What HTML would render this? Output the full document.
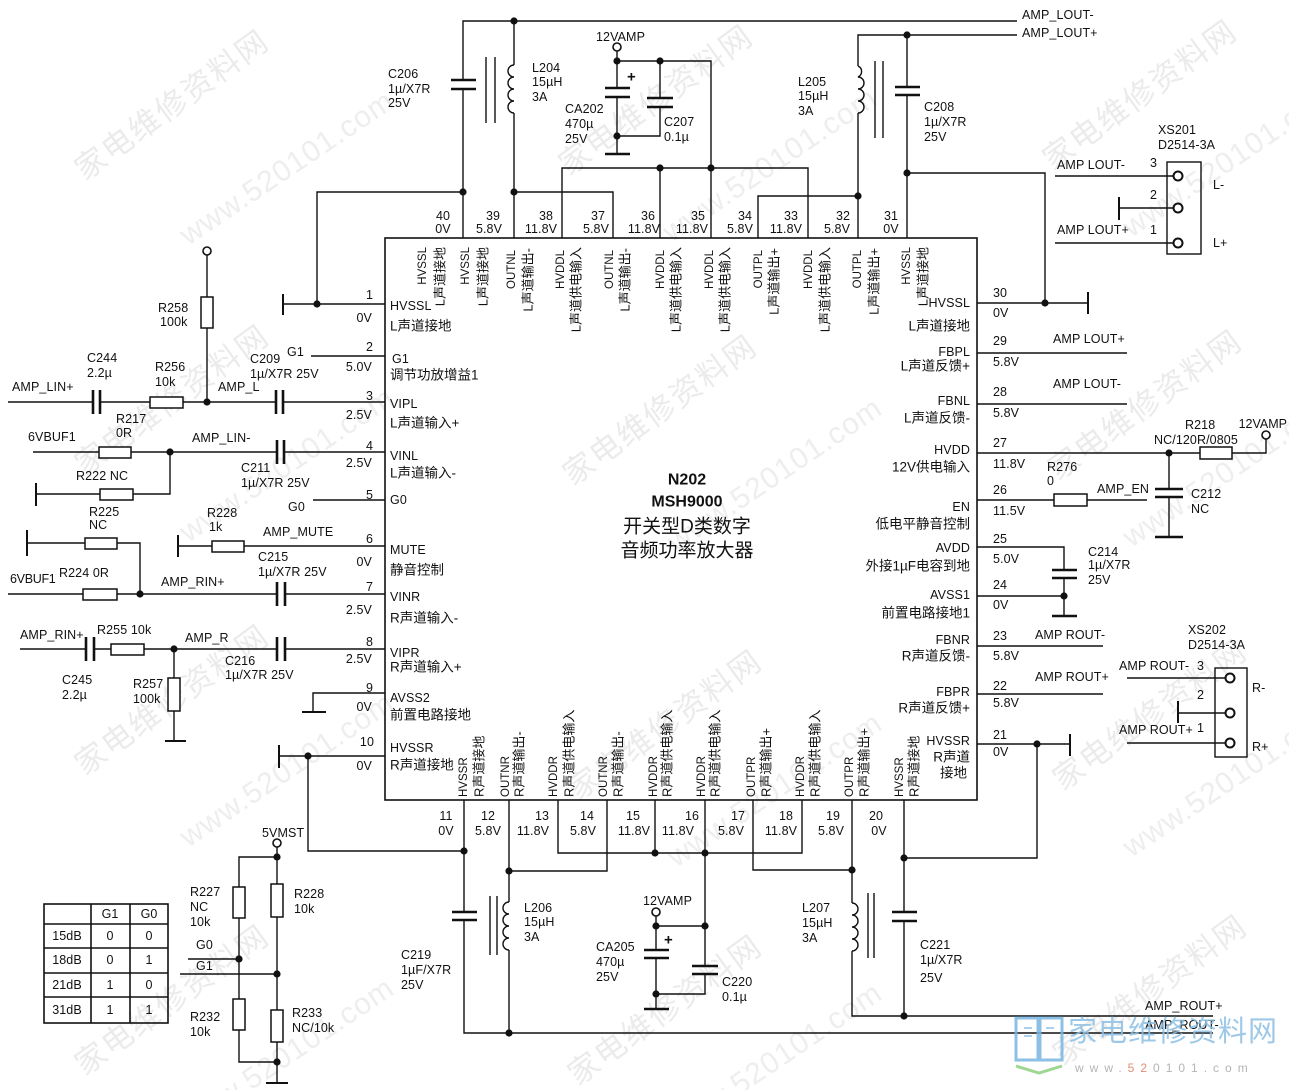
<!DOCTYPE html>
<html><head><meta charset="utf-8">
<style>
html,body{margin:0;padding:0;background:#fff;width:1289px;height:1090px;overflow:hidden;}
svg{display:block;overflow:hidden;}
text{font-family:"Liberation Sans","Noto Sans CJK SC",sans-serif;font-size:12.5px;fill:#111;dominant-baseline:central;letter-spacing:.1px;}
.c{font-size:13.5px;letter-spacing:0;}
.v{font-size:11.5px;letter-spacing:0;}
.vc{font-size:13px;letter-spacing:0;}
.wm{font-size:31px;fill:#ebebeb;letter-spacing:2px;}
.ww{font-size:30px;fill:#eeeeee;letter-spacing:1px;}
.w{stroke:#111;stroke-width:1.4;fill:none;}
.p{stroke:#111;stroke-width:2.6;fill:none;}
.r{stroke:#111;stroke-width:1.5;fill:#fff;}
.d{fill:#111;}
</style></head>
<body>
<svg width="1289" height="1090" viewBox="0 0 1289 1090" xmlns="http://www.w3.org/2000/svg">
<rect width="1289" height="1090" fill="#fff"/>

<!-- watermarks -->
<g>
<text class="wm" transform="translate(172,105) rotate(-36)" text-anchor="middle">家电维修资料网</text>
<text class="ww" transform="translate(287,168) rotate(-34)" text-anchor="middle">www.520101.com</text>
<text class="wm" transform="translate(656,100) rotate(-36)" text-anchor="middle">家电维修资料网</text>
<text class="ww" transform="translate(770,165) rotate(-34)" text-anchor="middle">www.520101.com</text>
<text class="wm" transform="translate(1140,95) rotate(-36)" text-anchor="middle">家电维修资料网</text>
<text class="ww" transform="translate(1230,160) rotate(-34)" text-anchor="middle">www.520101.com</text>
<text class="wm" transform="translate(172,400) rotate(-36)" text-anchor="middle">家电维修资料网</text>
<text class="ww" transform="translate(287,465) rotate(-34)" text-anchor="middle">www.520101.com</text>
<text class="wm" transform="translate(660,410) rotate(-36)" text-anchor="middle">家电维修资料网</text>
<text class="ww" transform="translate(775,475) rotate(-34)" text-anchor="middle">www.520101.com</text>
<text class="wm" transform="translate(1145,405) rotate(-36)" text-anchor="middle">家电维修资料网</text>
<text class="ww" transform="translate(1230,470) rotate(-34)" text-anchor="middle">www.520101.com</text>
<text class="wm" transform="translate(172,700) rotate(-36)" text-anchor="middle">家电维修资料网</text>
<text class="ww" transform="translate(287,770) rotate(-34)" text-anchor="middle">www.520101.com</text>
<text class="wm" transform="translate(665,725) rotate(-36)" text-anchor="middle">家电维修资料网</text>
<text class="ww" transform="translate(775,790) rotate(-34)" text-anchor="middle">www.520101.com</text>
<text class="wm" transform="translate(1150,715) rotate(-36)" text-anchor="middle">家电维修资料网</text>
<text class="ww" transform="translate(1230,780) rotate(-34)" text-anchor="middle">www.520101.com</text>
<text class="wm" transform="translate(172,1000) rotate(-36)" text-anchor="middle">家电维修资料网</text>
<text class="ww" transform="translate(287,1055) rotate(-34)" text-anchor="middle">www.520101.com</text>
<text class="wm" transform="translate(665,1010) rotate(-36)" text-anchor="middle">家电维修资料网</text>
<text class="ww" transform="translate(775,1060) rotate(-34)" text-anchor="middle">www.520101.com</text>
<text class="wm" transform="translate(1150,990) rotate(-36)" text-anchor="middle">家电维修资料网</text>
</g>

<!-- chip -->
<rect x="385" y="238" width="592" height="562" class="w" style="stroke-width:1.6"/>

<!-- ===== TOP WIRING ===== -->
<polyline class="w" points="463,238 463,89"/>
<polyline class="w" points="463,80 463,21 1017,21"/>
<line class="p" x1="451" y1="80" x2="476" y2="80"/><line class="p" x1="451" y1="89" x2="476" y2="89"/>
<polyline class="w" points="317,304 317,192 463,192"/>
<circle class="d" cx="463" cy="192" r="3.6"/>
<polyline class="w" points="514,238 514,113"/>
<path class="w" d="M514 113 a6 6 0 0 1 0 -12 a6 6 0 0 1 0 -12 a6 6 0 0 1 0 -12 a6 6 0 0 1 0 -12"/>
<polyline class="w" points="514,65 514,21"/>
<line class="w" x1="486" y1="57" x2="486" y2="123"/><line class="w" x1="495" y1="57" x2="495" y2="123"/>
<circle class="d" cx="514" cy="21" r="3.6"/>
<polyline class="w" points="514,192 613,192 613,238"/>
<circle class="d" cx="514" cy="192" r="3.6"/>
<polyline class="w" points="562,238 562,168 808,168 808,238"/>
<polyline class="w" points="660,238 660,168"/>
<polyline class="w" points="711,238 711,61 617,61"/>
<circle class="d" cx="660" cy="168" r="3.6"/><circle class="d" cx="711" cy="168" r="3.6"/>
<circle class="d" cx="617" cy="61" r="3.6"/><circle class="d" cx="660" cy="61" r="3.6"/>
<circle cx="617" cy="47" r="4" fill="#fff" stroke="#111" stroke-width="1.6"/>
<line class="w" x1="617" y1="51" x2="617" y2="61"/>
<polyline class="w" points="617,61 617,88"/>
<line class="p" x1="605" y1="88" x2="630" y2="88"/><line class="p" x1="605" y1="97" x2="630" y2="97"/>
<text x="627" y="77" style="font-size:15px;font-weight:bold">+</text>
<polyline class="w" points="617,97 617,154"/>
<line class="p" x1="605" y1="154" x2="630" y2="154"/>
<circle class="d" cx="617" cy="136" r="3.6"/>
<polyline class="w" points="660,61 660,98"/>
<line class="p" x1="647" y1="98" x2="673" y2="98"/><line class="p" x1="647" y1="107" x2="673" y2="107"/>
<polyline class="w" points="660,107 660,136 617,136"/>
<polyline class="w" points="758,238 758,196 858,196"/>
<polyline class="w" points="858,238 858,113"/>
<path class="w" d="M858 113 a6 6 0 0 0 0 -12 a6 6 0 0 0 0 -12 a6 6 0 0 0 0 -12 a6 6 0 0 0 0 -11"/>
<polyline class="w" points="858,66 858,35 1017,35"/>
<line class="w" x1="875" y1="61" x2="875" y2="138"/><line class="w" x1="883" y1="61" x2="883" y2="138"/>
<circle class="d" cx="858" cy="196" r="3.6"/>
<polyline class="w" points="907,238 907,95"/>
<polyline class="w" points="907,87 907,35"/>
<line class="p" x1="895" y1="87" x2="920" y2="87"/><line class="p" x1="895" y1="95" x2="920" y2="95"/>
<circle class="d" cx="907" cy="35" r="3.6"/><circle class="d" cx="907" cy="173" r="3.6"/>
<polyline class="w" points="907,173 1045,173 1045,303"/>

<!-- ===== RIGHT WIRING ===== -->
<line class="w" x1="977" y1="303" x2="1088" y2="303"/>
<line class="w" x1="1088" y1="292" x2="1088" y2="314" style="stroke-width:2"/>
<circle class="d" cx="1045" cy="303" r="3.6"/>
<line class="w" x1="977" y1="353" x2="1127" y2="353"/>
<line class="w" x1="977" y1="404" x2="1127" y2="404"/>
<line class="w" x1="977" y1="453" x2="1200" y2="453"/>
<rect class="r" x="1200" y="447" width="32" height="12"/>
<polyline class="w" points="1232,453 1266,453 1266,439"/>
<circle cx="1266" cy="435" r="4" fill="#fff" stroke="#111" stroke-width="1.6"/>
<circle class="d" cx="1169" cy="453" r="3.6"/>
<polyline class="w" points="1169,453 1169,489"/>
<line class="p" x1="1155" y1="489" x2="1183" y2="489"/><line class="p" x1="1155" y1="497" x2="1183" y2="497"/>
<polyline class="w" points="1169,497 1169,537"/>
<line class="p" x1="1155" y1="537" x2="1183" y2="537"/>
<line class="w" x1="977" y1="500" x2="1054" y2="500"/>
<rect class="r" x="1054" y="494" width="33" height="12"/>
<line class="w" x1="1087" y1="500" x2="1147" y2="500"/>
<polyline class="w" points="977,547 1064,547 1064,570"/>
<line class="p" x1="1052" y1="570" x2="1077" y2="570"/><line class="p" x1="1052" y1="578" x2="1077" y2="578"/>
<polyline class="w" points="1064,578 1064,616"/>
<line class="p" x1="1052" y1="616" x2="1077" y2="616"/>
<line class="w" x1="977" y1="596" x2="1064" y2="596"/>
<circle class="d" cx="1064" cy="596" r="3.6"/>
<line class="w" x1="977" y1="646" x2="1103" y2="646"/>
<line class="w" x1="977" y1="694" x2="1103" y2="694"/>
<line class="w" x1="977" y1="744" x2="1070" y2="744"/>
<line class="w" x1="1070" y1="734" x2="1070" y2="756" style="stroke-width:2"/>
<circle class="d" cx="1037" cy="744" r="3.6"/>
<polyline class="w" points="1037,744 1037,858 904,858"/>

<!-- XS201 -->
<rect class="w" x="1167" y="162" width="34" height="92"/>
<line class="w" x1="1055" y1="176" x2="1174" y2="176"/>
<line class="w" x1="1119" y1="208" x2="1174" y2="208"/>
<line class="w" x1="1119" y1="197" x2="1119" y2="220" style="stroke-width:2"/>
<line class="w" x1="1055" y1="243" x2="1174" y2="243"/>
<circle cx="1178" cy="176" r="4.5" fill="#fff" stroke="#111" stroke-width="2"/>
<circle cx="1178" cy="208" r="4.5" fill="#fff" stroke="#111" stroke-width="2"/>
<circle cx="1178" cy="243" r="4.5" fill="#fff" stroke="#111" stroke-width="2"/>
<!-- XS202 -->
<rect class="w" x="1215" y="668" width="32" height="89"/>
<line class="w" x1="1127" y1="678" x2="1226" y2="678"/>
<line class="w" x1="1178" y1="713" x2="1226" y2="713"/>
<line class="w" x1="1178" y1="701" x2="1178" y2="723" style="stroke-width:2"/>
<line class="w" x1="1127" y1="743" x2="1226" y2="743"/>
<circle cx="1230" cy="678" r="4.5" fill="#fff" stroke="#111" stroke-width="2"/>
<circle cx="1230" cy="713" r="4.5" fill="#fff" stroke="#111" stroke-width="2"/>
<circle cx="1230" cy="743" r="4.5" fill="#fff" stroke="#111" stroke-width="2"/>

<!-- ===== LEFT WIRING ===== -->
<line class="w" x1="283" y1="304" x2="385" y2="304"/>
<line class="w" x1="283" y1="294" x2="283" y2="315" style="stroke-width:2"/>
<circle class="d" cx="317" cy="304" r="3.6"/>
<line class="w" x1="311" y1="356" x2="385" y2="356"/>
<line class="w" x1="8" y1="402" x2="93" y2="402"/>
<line class="p" x1="93" y1="390" x2="93" y2="414"/><line class="p" x1="100" y1="390" x2="100" y2="414"/>
<line class="w" x1="100" y1="402" x2="150" y2="402"/>
<rect class="r" x="150" y="397" width="33" height="11"/>
<line class="w" x1="183" y1="402" x2="276" y2="402"/>
<line class="p" x1="276" y1="390" x2="276" y2="414"/><line class="p" x1="283" y1="390" x2="283" y2="414"/>
<line class="w" x1="283" y1="402" x2="385" y2="402"/>
<circle class="d" cx="207" cy="402" r="3.6"/>
<line class="w" x1="207" y1="402" x2="207" y2="328"/>
<rect class="r" x="201" y="297" width="12" height="31"/>
<line class="w" x1="207" y1="297" x2="207" y2="255"/>
<circle cx="207" cy="251" r="4" fill="#fff" stroke="#111" stroke-width="1.6"/>
<line class="w" x1="33" y1="452" x2="99" y2="452"/>
<rect class="r" x="99" y="447" width="32" height="11"/>
<line class="w" x1="131" y1="452" x2="277" y2="452"/>
<line class="p" x1="277" y1="440" x2="277" y2="464"/><line class="p" x1="284" y1="440" x2="284" y2="464"/>
<line class="w" x1="284" y1="452" x2="385" y2="452"/>
<circle class="d" cx="170" cy="452" r="3.6"/>
<polyline class="w" points="170,452 170,494 133,494"/>
<rect class="r" x="100" y="489" width="33" height="11"/>
<line class="w" x1="100" y1="494" x2="36" y2="494"/>
<line class="w" x1="36" y1="483" x2="36" y2="506" style="stroke-width:2"/>
<line class="w" x1="313" y1="500" x2="385" y2="500"/>
<line class="w" x1="27" y1="543" x2="85" y2="543"/>
<line class="w" x1="27" y1="530" x2="27" y2="556" style="stroke-width:2"/>
<rect class="r" x="85" y="538" width="32" height="11"/>
<polyline class="w" points="117,543 140,543 140,594"/>
<line class="w" x1="178" y1="546" x2="212" y2="546"/>
<line class="w" x1="178" y1="535" x2="178" y2="557" style="stroke-width:2"/>
<rect class="r" x="212" y="541" width="32" height="11"/>
<line class="w" x1="244" y1="546" x2="385" y2="546"/>
<line class="w" x1="8" y1="594" x2="83" y2="594"/>
<rect class="r" x="83" y="589" width="34" height="11"/>
<line class="w" x1="117" y1="594" x2="277" y2="594"/>
<line class="p" x1="277" y1="582" x2="277" y2="606"/><line class="p" x1="285" y1="582" x2="285" y2="606"/>
<line class="w" x1="285" y1="594" x2="385" y2="594"/>
<circle class="d" cx="140" cy="594" r="3.6"/>
<line class="w" x1="20" y1="649" x2="86" y2="649"/>
<line class="p" x1="86" y1="637" x2="86" y2="661"/><line class="p" x1="94" y1="637" x2="94" y2="661"/>
<line class="w" x1="94" y1="649" x2="111" y2="649"/>
<rect class="r" x="111" y="644" width="33" height="11"/>
<line class="w" x1="144" y1="649" x2="277" y2="649"/>
<line class="p" x1="277" y1="637" x2="277" y2="661"/><line class="p" x1="285" y1="637" x2="285" y2="661"/>
<line class="w" x1="285" y1="649" x2="385" y2="649"/>
<circle class="d" cx="174" cy="649" r="3.6"/>
<line class="w" x1="174" y1="649" x2="174" y2="678"/>
<rect class="r" x="168" y="678" width="12" height="33"/>
<line class="w" x1="174" y1="711" x2="174" y2="741"/>
<line class="w" x1="165" y1="741" x2="186" y2="741" style="stroke-width:2"/>
<polyline class="w" points="385,693 313,693 313,712"/>
<line class="w" x1="302" y1="712" x2="326" y2="712" style="stroke-width:2"/>
<line class="w" x1="279" y1="756" x2="385" y2="756"/>
<line class="w" x1="279" y1="745" x2="279" y2="768" style="stroke-width:2"/>
<circle class="d" cx="308" cy="756" r="3.6"/>
<polyline class="w" points="308,756 308,851 464,851"/>

<!-- ===== BOTTOM WIRING ===== -->
<polyline class="w" points="464,800 464,912"/>
<line class="p" x1="452" y1="912" x2="477" y2="912"/><line class="p" x1="452" y1="920" x2="477" y2="920"/>
<polyline class="w" points="464,920 464,1033 1213,1033"/>
<circle class="d" cx="464" cy="851" r="3.6"/>
<polyline class="w" points="509,800 509,871 607,871 607,800"/>
<circle class="d" cx="509" cy="871" r="3.6"/>
<line class="w" x1="509" y1="871" x2="509" y2="902"/>
<path class="w" d="M509 902 a6 6 0 0 0 0 12 a6 6 0 0 0 0 12 a6 6 0 0 0 0 12 a6 6 0 0 0 0 12"/>
<line class="w" x1="509" y1="950" x2="509" y2="1033"/>
<line class="w" x1="490" y1="896" x2="490" y2="955"/><line class="w" x1="497" y1="896" x2="497" y2="955"/>
<circle class="d" cx="509" cy="1033" r="3.6"/>
<polyline class="w" points="558,800 558,853 802,853 802,800"/>
<line class="w" x1="655" y1="800" x2="655" y2="853"/>
<circle class="d" cx="655" cy="853" r="3.6"/>
<polyline class="w" points="705,800 705,966"/>
<circle class="d" cx="705" cy="853" r="3.6"/>
<line class="p" x1="692" y1="966" x2="718" y2="966"/><line class="p" x1="692" y1="974" x2="718" y2="974"/>
<polyline class="w" points="705,974 705,994 656,994"/>
<line class="w" x1="656" y1="926" x2="705" y2="926"/>
<circle class="d" cx="705" cy="926" r="3.6"/><circle class="d" cx="656" cy="926" r="3.6"/>
<circle cx="656" cy="912" r="4" fill="#fff" stroke="#111" stroke-width="1.6"/>
<line class="w" x1="656" y1="916" x2="656" y2="950"/>
<line class="p" x1="644" y1="950" x2="669" y2="950"/><line class="p" x1="644" y1="958" x2="669" y2="958"/>
<text x="664" y="940" style="font-size:15px;font-weight:bold">+</text>
<line class="w" x1="656" y1="958" x2="656" y2="1009"/>
<line class="p" x1="644" y1="1009" x2="669" y2="1009"/>
<circle class="d" cx="656" cy="994" r="3.6"/>
<polyline class="w" points="753,800 753,870 852,870 852,800"/>
<circle class="d" cx="852" cy="870" r="3.6"/>
<line class="w" x1="852" y1="870" x2="852" y2="903"/>
<path class="w" d="M852 903 a6 6 0 0 1 0 12 a6 6 0 0 1 0 12 a6 6 0 0 1 0 12 a6 6 0 0 1 0 12"/>
<polyline class="w" points="852,951 852,1016 1213,1016"/>
<line class="w" x1="868" y1="893" x2="868" y2="958"/><line class="w" x1="874" y1="893" x2="874" y2="958"/>
<polyline class="w" points="904,800 904,912"/>
<line class="p" x1="892" y1="912" x2="917" y2="912"/><line class="p" x1="892" y1="921" x2="917" y2="921"/>
<line class="w" x1="904" y1="921" x2="904" y2="1016"/>
<circle class="d" cx="904" cy="1016" r="3.6"/><circle class="d" cx="904" cy="858" r="3.6"/>

<!-- gain network -->
<circle cx="277" cy="843" r="4" fill="#fff" stroke="#111" stroke-width="1.6"/>
<line class="w" x1="277" y1="847" x2="277" y2="884"/>
<rect class="r" x="271" y="884" width="12" height="33"/>
<line class="w" x1="277" y1="917" x2="277" y2="1010"/>
<rect class="r" x="271" y="1010" width="12" height="32"/>
<line class="w" x1="277" y1="1042" x2="277" y2="1083"/>
<line class="w" x1="266" y1="1083" x2="288" y2="1083" style="stroke-width:2"/>
<polyline class="w" points="277,857 239,857 239,887"/>
<rect class="r" x="233" y="887" width="12" height="31"/>
<line class="w" x1="239" y1="918" x2="239" y2="999"/>
<rect class="r" x="233" y="999" width="12" height="31"/>
<polyline class="w" points="239,1030 239,1062 277,1062"/>
<line class="w" x1="188" y1="959" x2="239" y2="959"/>
<line class="w" x1="180" y1="974" x2="277" y2="974"/>
<circle class="d" cx="277" cy="857" r="3.6"/><circle class="d" cx="277" cy="974" r="3.6"/>
<circle class="d" cx="277" cy="1062" r="3.6"/><circle class="d" cx="239" cy="959" r="3.6"/>

<!-- table -->
<g style="stroke:#111;stroke-width:1.6;fill:none">
<rect x="44" y="904" width="124" height="119"/>
<line x1="44" y1="924" x2="168" y2="924"/><line x1="44" y1="948" x2="168" y2="948"/>
<line x1="44" y1="973" x2="168" y2="973"/><line x1="44" y1="997" x2="168" y2="997"/>
<line x1="91" y1="904" x2="91" y2="1023"/><line x1="130" y1="904" x2="130" y2="1023"/>
</g>
<g text-anchor="middle">
<text x="110" y="914">G1</text><text x="149" y="914">G0</text>
<text x="67" y="936">15dB</text><text x="110" y="936">0</text><text x="149" y="936">0</text>
<text x="67" y="960">18dB</text><text x="110" y="960">0</text><text x="149" y="960">1</text>
<text x="67" y="985">21dB</text><text x="110" y="985">1</text><text x="149" y="985">0</text>
<text x="67" y="1010">31dB</text><text x="110" y="1010">1</text><text x="149" y="1010">1</text>
</g>

<!-- ===== TEXT ===== -->
<text x="388" y="74">C206</text><text x="388" y="89">1µ/X7R</text><text x="388" y="103">25V</text>
<text x="532" y="68">L204</text><text x="532" y="82">15µH</text><text x="532" y="97">3A</text>
<text x="596" y="37">12VAMP</text>
<text x="565" y="109">CA202</text><text x="565" y="124">470µ</text><text x="565" y="139">25V</text>
<text x="664" y="122">C207</text><text x="664" y="137">0.1µ</text>
<text x="798" y="82">L205</text><text x="798" y="96">15µH</text><text x="798" y="111">3A</text>
<text x="924" y="107">C208</text><text x="924" y="122">1µ/X7R</text><text x="924" y="137">25V</text>
<text x="1022" y="15">AMP_LOUT-</text><text x="1022" y="33">AMP_LOUT+</text>
<g text-anchor="middle">
<text x="443" y="216">40</text><text x="443" y="229">0V</text>
<text x="493" y="216">39</text><text x="489" y="229">5.8V</text>
<text x="546" y="216">38</text><text x="541" y="229">11.8V</text>
<text x="598" y="216">37</text><text x="596" y="229">5.8V</text>
<text x="648" y="216">36</text><text x="644" y="229">11.8V</text>
<text x="698" y="216">35</text><text x="692" y="229">11.8V</text>
<text x="745" y="216">34</text><text x="740" y="229">5.8V</text>
<text x="791" y="216">33</text><text x="786" y="229">11.8V</text>
<text x="843" y="216">32</text><text x="837" y="229">5.8V</text>
<text x="891" y="216">31</text><text x="891" y="229">0V</text>
</g>
<g text-anchor="end">
<text class="v" transform="translate(423,247) rotate(-90)">HVSSL</text><text class="vc" transform="translate(440,247) rotate(-90)">L声道接地</text>
<text class="v" transform="translate(466,247) rotate(-90)">HVSSL</text><text class="vc" transform="translate(483,247) rotate(-90)">L声道接地</text>
<text class="v" transform="translate(512,250) rotate(-90)">OUTNL</text><text class="vc" transform="translate(528,248) rotate(-90)">L声道输出-</text>
<text class="v" transform="translate(561,250) rotate(-90)">HVDDL</text><text class="vc" transform="translate(576,247) rotate(-90)">L声道供电输入</text>
<text class="v" transform="translate(610,250) rotate(-90)">OUTNL</text><text class="vc" transform="translate(625,248) rotate(-90)">L声道输出-</text>
<text class="v" transform="translate(661,250) rotate(-90)">HVDDL</text><text class="vc" transform="translate(676,247) rotate(-90)">L声道供电输入</text>
<text class="v" transform="translate(710,250) rotate(-90)">HVDDL</text><text class="vc" transform="translate(725,247) rotate(-90)">L声道供电输入</text>
<text class="v" transform="translate(759,250) rotate(-90)">OUTPL</text><text class="vc" transform="translate(774,248) rotate(-90)">L声道输出+</text>
<text class="v" transform="translate(809,250) rotate(-90)">HVDDL</text><text class="vc" transform="translate(825,247) rotate(-90)">L声道供电输入</text>
<text class="v" transform="translate(858,250) rotate(-90)">OUTPL</text><text class="vc" transform="translate(874,248) rotate(-90)">L声道输出+</text>
<text class="v" transform="translate(907,247) rotate(-90)">HVSSL</text><text class="vc" transform="translate(923,247) rotate(-90)">L声道接地</text>
</g>
<g text-anchor="start">
<text class="v" transform="translate(464,797) rotate(-90)">HVSSR</text><text class="vc" transform="translate(479,797) rotate(-90)">R声道接地</text>
<text class="v" transform="translate(506,797) rotate(-90)">OUTNR</text><text class="vc" transform="translate(519,797) rotate(-90)">R声道输出-</text>
<text class="v" transform="translate(554,797) rotate(-90)">HVDDR</text><text class="vc" transform="translate(569,797) rotate(-90)">R声道供电输入</text>
<text class="v" transform="translate(604,797) rotate(-90)">OUTNR</text><text class="vc" transform="translate(618,797) rotate(-90)">R声道输出-</text>
<text class="v" transform="translate(654,797) rotate(-90)">HVDDR</text><text class="vc" transform="translate(667,797) rotate(-90)">R声道供电输入</text>
<text class="v" transform="translate(702,797) rotate(-90)">HVDDR</text><text class="vc" transform="translate(715,797) rotate(-90)">R声道供电输入</text>
<text class="v" transform="translate(752,797) rotate(-90)">OUTPR</text><text class="vc" transform="translate(766,797) rotate(-90)">R声道输出+</text>
<text class="v" transform="translate(801,797) rotate(-90)">HVDDR</text><text class="vc" transform="translate(815,797) rotate(-90)">R声道供电输入</text>
<text class="v" transform="translate(850,797) rotate(-90)">OUTPR</text><text class="vc" transform="translate(864,797) rotate(-90)">R声道输出+</text>
<text class="v" transform="translate(900,797) rotate(-90)">HVSSR</text><text class="vc" transform="translate(914,797) rotate(-90)">R声道接地</text>
</g>
<g text-anchor="middle">
<text x="446" y="816">11</text><text x="446" y="831">0V</text>
<text x="488" y="816">12</text><text x="488" y="831">5.8V</text>
<text x="542" y="816">13</text><text x="533" y="831">11.8V</text>
<text x="587" y="816">14</text><text x="583" y="831">5.8V</text>
<text x="633" y="816">15</text><text x="634" y="831">11.8V</text>
<text x="692" y="816">16</text><text x="678" y="831">11.8V</text>
<text x="738" y="816">17</text><text x="731" y="831">5.8V</text>
<text x="786" y="816">18</text><text x="781" y="831">11.8V</text>
<text x="833" y="816">19</text><text x="831" y="831">5.8V</text>
<text x="876" y="816">20</text><text x="879" y="831">0V</text>
</g>

<g text-anchor="end">
<text x="373" y="295">1</text><text x="372" y="318">0V</text>
<text x="373" y="347">2</text><text x="372" y="367">5.0V</text>
<text x="373" y="396">3</text><text x="372" y="415">2.5V</text>
<text x="373" y="446">4</text><text x="372" y="463">2.5V</text>
<text x="373" y="495">5</text>
<text x="373" y="539">6</text><text x="372" y="562">0V</text>
<text x="373" y="587">7</text><text x="372" y="610">2.5V</text>
<text x="373" y="642">8</text><text x="372" y="659">2.5V</text>
<text x="373" y="688">9</text><text x="372" y="707">0V</text>
<text x="374" y="742">10</text><text x="372" y="766">0V</text>
</g>
<text x="390" y="306">HVSSL</text><text class="c" x="390" y="326">L声道接地</text>
<text x="392" y="359">G1</text><text class="c" x="390" y="375">调节功放增益1</text>
<text x="390" y="404">VIPL</text><text class="c" x="390" y="423">L声道输入+</text>
<text x="390" y="456">VINL</text><text class="c" x="390" y="473">L声道输入-</text>
<text x="390" y="500">G0</text>
<text x="390" y="550">MUTE</text><text class="c" x="390" y="570">静音控制</text>
<text x="390" y="597">VINR</text><text class="c" x="390" y="618">R声道输入-</text>
<text x="390" y="653">VIPR</text><text class="c" x="390" y="667">R声道输入+</text>
<text x="390" y="698">AVSS2</text><text class="c" x="390" y="715">前置电路接地</text>
<text x="390" y="748">HVSSR</text><text class="c" x="390" y="765">R声道接地</text>

<g text-anchor="end">
<text x="970" y="303">HVSSL</text><text class="c" x="970" y="326">L声道接地</text>
<text x="970" y="352">FBPL</text><text class="c" x="970" y="366">L声道反馈+</text>
<text x="970" y="401">FBNL</text><text class="c" x="970" y="418">L声道反馈-</text>
<text x="970" y="450">HVDD</text><text class="c" x="970" y="467">12V供电输入</text>
<text x="970" y="507">EN</text><text class="c" x="970" y="524">低电平静音控制</text>
<text x="970" y="548">AVDD</text><text class="c" x="970" y="566">外接1µF电容到地</text>
<text x="970" y="595">AVSS1</text><text class="c" x="970" y="613">前置电路接地1</text>
<text x="970" y="640">FBNR</text><text class="c" x="970" y="656">R声道反馈-</text>
<text x="970" y="692">FBPR</text><text class="c" x="970" y="708">R声道反馈+</text>
<text x="970" y="741">HVSSR</text><text class="c" x="970" y="757">R声道</text><text class="c" x="967" y="773">接地</text>
</g>
<text x="993" y="293">30</text><text x="993" y="313">0V</text>
<text x="993" y="341">29</text><text x="993" y="362">5.8V</text>
<text x="993" y="392">28</text><text x="993" y="413">5.8V</text>
<text x="993" y="443">27</text><text x="993" y="464">11.8V</text>
<text x="993" y="490">26</text><text x="993" y="511">11.5V</text>
<text x="993" y="539">25</text><text x="993" y="559">5.0V</text>
<text x="993" y="585">24</text><text x="993" y="605">0V</text>
<text x="993" y="636">23</text><text x="993" y="656">5.8V</text>
<text x="993" y="686">22</text><text x="993" y="703">5.8V</text>
<text x="993" y="735">21</text><text x="993" y="752">0V</text>

<g text-anchor="middle">
<text x="687" y="480" style="font-size:16px;font-weight:bold;letter-spacing:0">N202</text>
<text x="687" y="502" style="font-size:16px;font-weight:bold;letter-spacing:0">MSH9000</text>
<text x="687" y="527" style="font-size:19px;letter-spacing:0">开关型D类数字</text>
<text x="687" y="551" style="font-size:19px;letter-spacing:0">音频功率放大器</text>
</g>

<text x="1158" y="130">XS201</text><text x="1158" y="145">D2514-3A</text>
<text x="1057" y="165">AMP LOUT-</text><text x="1150" y="163">3</text>
<text x="1150" y="195">2</text>
<text x="1057" y="230">AMP LOUT+</text><text x="1150" y="230">1</text>
<text x="1213" y="185">L-</text><text x="1213" y="243">L+</text>
<text x="1053" y="339">AMP LOUT+</text><text x="1053" y="384">AMP LOUT-</text>
<text x="1185" y="425">R218</text><text x="1154" y="440">NC/120R/0805</text>
<text x="1287" y="424" text-anchor="end" style="letter-spacing:0">12VAMP</text>
<text x="1047" y="467">R276</text><text x="1047" y="481">0</text>
<text x="1097" y="489">AMP_EN</text>
<text x="1191" y="494">C212</text><text x="1191" y="509">NC</text>
<text x="1088" y="552">C214</text><text x="1088" y="565">1µ/X7R</text><text x="1088" y="580">25V</text>
<text x="1035" y="635">AMP ROUT-</text><text x="1035" y="677">AMP ROUT+</text>
<text x="1188" y="630">XS202</text><text x="1188" y="645">D2514-3A</text>
<text x="1119" y="666">AMP ROUT-</text><text x="1197" y="666">3</text>
<text x="1197" y="695">2</text>
<text x="1119" y="730">AMP ROUT+</text><text x="1197" y="728">1</text>
<text x="1252" y="688">R-</text><text x="1252" y="747">R+</text>

<text x="12" y="387">AMP_LIN+</text>
<text x="87" y="358">C244</text><text x="87" y="373">2.2µ</text>
<text x="155" y="367">R256</text><text x="155" y="382">10k</text>
<text x="158" y="308">R258</text><text x="160" y="322">100k</text>
<text x="218" y="387">AMP_L</text>
<text x="250" y="359">C209</text><text x="250" y="374">1µ/X7R 25V</text>
<text x="287" y="352">G1</text>
<text x="28" y="437">6VBUF1</text>
<text x="116" y="419">R217</text><text x="116" y="433">0R</text>
<text x="192" y="438">AMP_LIN-</text>
<text x="241" y="468">C211</text><text x="241" y="483">1µ/X7R 25V</text>
<text x="76" y="476">R222 NC</text>
<text x="288" y="507">G0</text>
<text x="89" y="512">R225</text><text x="89" y="525">NC</text>
<text x="207" y="513">R228</text><text x="209" y="527">1k</text>
<text x="263" y="532">AMP_MUTE</text>
<text x="10" y="579" style="letter-spacing:-0.3px">6VBUF1</text>
<text x="59" y="573">R224 0R</text>
<text x="161" y="582">AMP_RIN+</text>
<text x="258" y="557">C215</text><text x="258" y="572">1µ/X7R 25V</text>
<text x="20" y="635">AMP_RIN+</text>
<text x="97" y="630">R255 10k</text>
<text x="185" y="638">AMP_R</text>
<text x="225" y="661">C216</text><text x="225" y="675">1µ/X7R 25V</text>
<text x="62" y="680">C245</text><text x="62" y="695">2.2µ</text>
<text x="133" y="684">R257</text><text x="133" y="699">100k</text>

<text x="262" y="833">5VMST</text>
<text x="190" y="892">R227</text><text x="190" y="907">NC</text><text x="190" y="922">10k</text>
<text x="294" y="894">R228</text><text x="294" y="909">10k</text>
<text x="196" y="945">G0</text><text x="196" y="966">G1</text>
<text x="190" y="1017">R232</text><text x="190" y="1032">10k</text>
<text x="292" y="1013">R233</text><text x="292" y="1028">NC/10k</text>
<text x="401" y="955">C219</text><text x="401" y="970">1µF/X7R</text><text x="401" y="985">25V</text>
<text x="524" y="908">L206</text><text x="524" y="922">15µH</text><text x="524" y="937">3A</text>
<text x="643" y="901">12VAMP</text>
<text x="596" y="947">CA205</text><text x="596" y="962">470µ</text><text x="596" y="977">25V</text>
<text x="722" y="982">C220</text><text x="722" y="997">0.1µ</text>
<text x="802" y="908">L207</text><text x="802" y="923">15µH</text><text x="802" y="938">3A</text>
<text x="920" y="945">C221</text><text x="920" y="960">1µ/X7R</text><text x="920" y="978">25V</text>
<text x="1145" y="1006">AMP_ROUT+</text><text x="1145" y="1025">AMP_ROUT-</text>

<!-- logo -->
<g opacity="0.85">
<rect x="1016" y="1018" width="22" height="42" fill="none" stroke="#79b6e2" stroke-width="3"/>
<rect x="1040" y="1018" width="22" height="42" fill="none" stroke="#79b6e2" stroke-width="3"/>
<path d="M1024 1028 L1032 1028 M1024 1036 L1032 1036 M1046 1028 L1054 1028" stroke="#9ccbec" stroke-width="2"/>
<path d="M1016 1066 L1039 1073 L1062 1066" fill="none" stroke="#8fd080" stroke-width="3"/>
<text x="1068" y="1032" style="font-size:29px;fill:#8dbfe3;letter-spacing:1px">家电维修资料网</text>
<text x="1075" y="1068" style="font-size:12px;fill:#a8a8a8;letter-spacing:6px">www.<tspan style="fill:#e07a5a">52</tspan>0101.com</text>
</g>
</svg>
</body></html>
